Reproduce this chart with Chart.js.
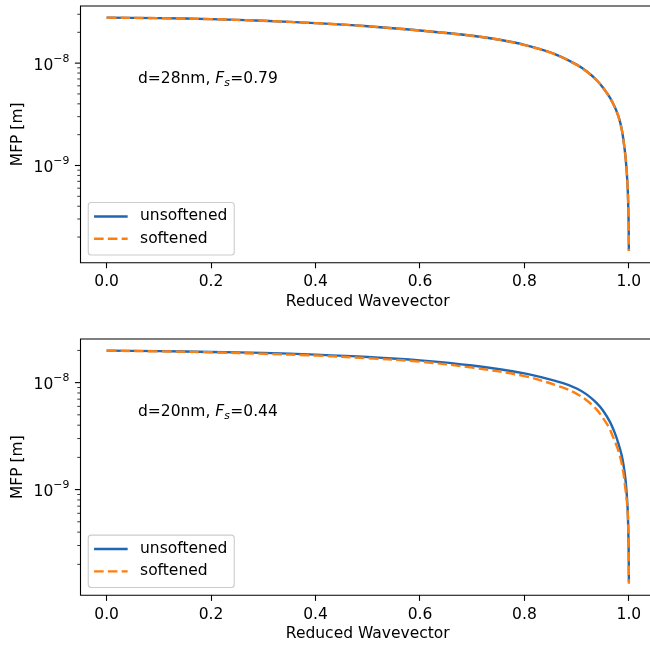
<!DOCTYPE html>
<html><head><meta charset="utf-8">
<script src="https://cdn.jsdelivr.net/npm/chart.js@4.4.1/dist/chart.umd.min.js"></script>
<style>
html,body{margin:0;padding:0;background:#fff;overflow:hidden;width:650px;height:646px;position:relative}
canvas{position:absolute;left:0}
#cTop{top:0}
#cBot{top:320px}
</style></head><body>
<canvas id="cTop" width="665" height="320" style="width:665px;height:320px"></canvas>
<canvas id="cBot" width="665" height="326" style="width:665px;height:326px"></canvas>
<script>
// ---------- data ----------
const xTicks = [0, 0.2, 0.4, 0.6, 0.8, 1.0];
const yMajorTicks = [1e-9, 1e-8];
const legendLabels = ['unsoftened', 'softened'];
const xTitle = 'Reduced Wavevector';
const yTitle = 'MFP [m]';

// top panel: d=28nm, Fs=0.79
const topNote = ['d=28nm, ', 'F', 's', '=0.79'];
const topX = [0, 0.1, 0.2, 0.3, 0.4, 0.5, 0.6, 0.7, 0.75, 0.8, 0.855, 0.9, 0.919, 0.938, 0.951, 0.964, 0.973, 0.98, 0.985, 0.989, 0.994, 0.9975, 0.9994, 1.0];
const topUnsoftened = [2.78e-8, 2.75e-8, 2.69e-8, 2.59e-8, 2.46e-8, 2.29e-8, 2.08e-8, 1.85e-8, 1.70e-8, 1.51e-8, 1.245e-8, 9.66e-9, 8.32e-9, 6.84e-9, 5.71e-9, 4.57e-9, 3.72e-9, 3.02e-9, 2.43e-9, 1.86e-9, 1.15e-9, 6.31e-10, 2.95e-10, 1.47e-10];
const topSoftened   = [2.78e-8, 2.75e-8, 2.69e-8, 2.59e-8, 2.46e-8, 2.29e-8, 2.08e-8, 1.85e-8, 1.70e-8, 1.50e-8, 1.24e-8, 9.62e-9, 8.28e-9, 6.81e-9, 5.68e-9, 4.55e-9, 3.70e-9, 3.00e-9, 2.42e-9, 1.85e-9, 1.145e-9, 6.28e-10, 2.94e-10, 1.46e-10];

// bottom panel: d=20nm, Fs=0.44
const botNote = ['d=20nm, ', 'F', 's', '=0.44'];
const botXUnsoftened = [0, 0.1, 0.2, 0.3, 0.4, 0.5, 0.6, 0.7, 0.8, 0.874, 0.9, 0.919, 0.938, 0.951, 0.964, 0.973, 0.98, 0.986, 0.99, 0.994, 0.9975, 0.9994, 1.0];
const botUnsoftened  = [1.99e-8, 1.97e-8, 1.93e-8, 1.897e-8, 1.828e-8, 1.738e-8, 1.614e-8, 1.445e-8, 1.219e-8, 9.89e-9, 8.81e-9, 7.76e-9, 6.46e-9, 5.43e-9, 4.27e-9, 3.39e-9, 2.69e-9, 2.11e-9, 1.66e-9, 1.175e-9, 6.76e-10, 3.09e-10, 1.37e-10];
const botXSoftened   = [0, 0.1, 0.2, 0.3, 0.4, 0.5, 0.6, 0.7, 0.8, 0.874, 0.9, 0.919, 0.938, 0.951, 0.962, 0.969, 0.978, 0.984, 0.989, 0.992, 0.9975, 0.9994, 1.0];
const botSoftened    = [1.99e-8, 1.96e-8, 1.92e-8, 1.86e-8, 1.79e-8, 1.69e-8, 1.57e-8, 1.38e-8, 1.15e-8, 8.97e-9, 7.85e-9, 6.84e-9, 5.62e-9, 4.62e-9, 3.80e-9, 3.16e-9, 2.45e-9, 1.95e-9, 1.48e-9, 1.15e-9, 6.46e-10, 2.95e-10, 1.32e-10];

// ---------- style ----------
const FAM = '"DejaVu Sans"';
const FS = 15.5;
const BLUE = '#1f66b3';
const ORANGE = '#ff7f0e';
const LW = 2.4;
const DASH = [9.6, 4.2];
Chart.defaults.font.family = 'DejaVu Sans';
Chart.defaults.color = '#000';

function logRange(arrs) {
  let lo = Infinity, hi = -Infinity;
  arrs.forEach(a => a.forEach(v => { lo = Math.min(lo, Math.log10(v)); hi = Math.max(hi, Math.log10(v)); }));
  const m = 0.05 * (hi - lo);
  return [Math.pow(10, lo - m), Math.pow(10, hi + m)];
}

const decor = {
  id: 'decor',
  afterDraw(chart, args, o) {
    const {ctx, chartArea: ca} = chart;
    const y = chart.scales.y;
    ctx.save();
    // spines
    ctx.strokeStyle = '#000';
    ctx.lineWidth = 1.1;
    ctx.beginPath();
    ctx.rect(ca.left, ca.top, ca.right - ca.left, ca.bottom - ca.top);
    ctx.stroke();
    // y ticks (major + minor)
    const e0 = Math.floor(Math.log10(y.min)), e1 = Math.ceil(Math.log10(y.max));
    for (let e = e0; e <= e1; e++) {
      for (let m = 1; m <= 9; m++) {
        const v = m * Math.pow(10, e);
        if (v < y.min || v > y.max) continue;
        const py = y.getPixelForValue(v);
        const major = m === 1;
        ctx.lineWidth = major ? 1.1 : 0.8;
        ctx.beginPath();
        ctx.moveTo(ca.left, py);
        ctx.lineTo(ca.left - (major ? 5.6 : 3.2), py);
        ctx.stroke();
      }
    }
    // y tick labels 10^n
    ctx.fillStyle = '#000';
    ctx.textAlign = 'left';
    ctx.textBaseline = 'alphabetic';
    yMajorTicks.forEach(v => {
      if (v < y.min || v > y.max) return;
      const py = y.getPixelForValue(v);
      const ex = Math.round(Math.log10(v));
      const base = '10';
      const sup = (ex < 0 ? '\u2212' : '') + Math.abs(ex);
      ctx.font = FS + 'px ' + FAM;
      const wb = ctx.measureText(base).width;
      ctx.font = (FS * 0.7) + 'px ' + FAM;
      const ws = ctx.measureText(sup).width;
      const x0 = ca.left - 11.2 - wb - ws;
      ctx.font = FS + 'px ' + FAM;
      ctx.fillText(base, x0, py + 6.5);
      ctx.font = (FS * 0.7) + 'px ' + FAM;
      ctx.fillText(sup, x0 + wb, py + 6.5 - 7.7);
    });
    // annotation text at axes fraction (0.1, 0.7)
    const W = ca.right - ca.left, H = ca.bottom - ca.top;
    let tx = ca.left + 0.1 * W;
    const ty = ca.bottom - 0.7 * H;
    const parts = o.note;
    ctx.font = FS + 'px ' + FAM;
    ctx.fillText(parts[0], tx, ty); tx += ctx.measureText(parts[0]).width;
    ctx.font = 'italic ' + FS + 'px ' + FAM;
    ctx.fillText(parts[1], tx, ty); tx += ctx.measureText(parts[1]).width;
    ctx.font = 'italic ' + (FS * 0.7) + 'px ' + FAM;
    ctx.fillText(parts[2], tx, ty + 3.4); tx += ctx.measureText(parts[2]).width + 0.5;
    ctx.font = FS + 'px ' + FAM;
    ctx.fillText(parts[3], tx, ty);
    // legend (lower left)
    const bl = ca.left + 7.75, bb = ca.bottom - 7.75, bw = 146, bh = 52.4, bt = bb - bh;
    ctx.beginPath();
    ctx.roundRect(bl, bt, bw, bh, 3);
    ctx.fillStyle = 'rgba(255,255,255,0.8)';
    ctx.fill();
    ctx.strokeStyle = '#cccccc';
    ctx.lineWidth = 1.1;
    ctx.stroke();
    chart.data.datasets.forEach((ds, i) => {
      const ry = bt + 13.9 + i * 22.3;
      ctx.strokeStyle = ds.borderColor;
      ctx.lineWidth = LW;
      ctx.setLineDash(ds.borderDash || []);
      ctx.lineCap = 'butt';
      ctx.beginPath();
      ctx.moveTo(bl + 5.8, ry);
      ctx.lineTo(bl + 39.4, ry);
      ctx.stroke();
      ctx.setLineDash([]);
      ctx.fillStyle = '#000';
      ctx.font = FS + 'px ' + FAM;
      ctx.textBaseline = 'middle';
      ctx.fillText(ds.label, bl + 51.8, ry);
    });
    ctx.restore();
  }
};

function makeChart(id, xu, yu, xs, ys, note, padTop, padBottom) {
  const [ymin, ymax] = logRange([yu, ys]);
  return new Chart(document.getElementById(id), {
    type: 'line',
    data: {
      datasets: [
        { label: legendLabels[0], data: xu.map((x, i) => ({x, y: yu[i]})), borderColor: BLUE, borderWidth: LW,
          pointRadius: 0, fill: false, tension: 0.35, order: 1 },
        { label: legendLabels[1], data: xs.map((x, i) => ({x, y: ys[i]})), borderColor: ORANGE, borderWidth: LW,
          borderDash: DASH, pointRadius: 0, fill: false, tension: 0.35, order: 0 }
      ]
    },
    options: {
      responsive: false,
      animation: false,
      devicePixelRatio: 1,
      layout: { padding: { left: 0, top: padTop, right: 10, bottom: padBottom } },
      plugins: { legend: { display: false }, tooltip: { enabled: false }, decor: { note } },
      scales: {
        x: {
          type: 'linear', min: -0.05, max: 1.05,
          afterBuildTicks: s => { s.ticks = xTicks.map(v => ({value: v})); },
          afterFit: s => { s.height = 50.7; },
          ticks: { callback: v => Number(v).toFixed(1), font: { size: FS }, color: '#000', padding: 4.3, maxRotation: 0, autoSkip: false },
          grid: { display: true, drawOnChartArea: false, drawTicks: true, tickLength: 5.6, tickWidth: 1.1, tickColor: '#000', color: '#000' },
          border: { display: false },
          title: { display: true, text: xTitle, font: { size: FS }, color: '#000', padding: { top: 0, bottom: 2.4 } }
        },
        y: {
          type: 'logarithmic', min: ymin, max: ymax,
          afterFit: s => { s.width = 80.5; },
          ticks: { display: false },
          grid: { display: false },
          border: { display: false },
          title: { display: true, text: yTitle, font: { size: FS }, color: '#000', padding: { top: 8.7, bottom: 0 } }
        }
      }
    },
    plugins: [decor]
  });
}

makeChart('cTop', topX, topUnsoftened, topX, topSoftened, topNote, 6, 6.6);
makeChart('cBot', botXUnsoftened, botUnsoftened, botXSoftened, botSoftened, botNote, 19, 0);
</script>
</body></html>
